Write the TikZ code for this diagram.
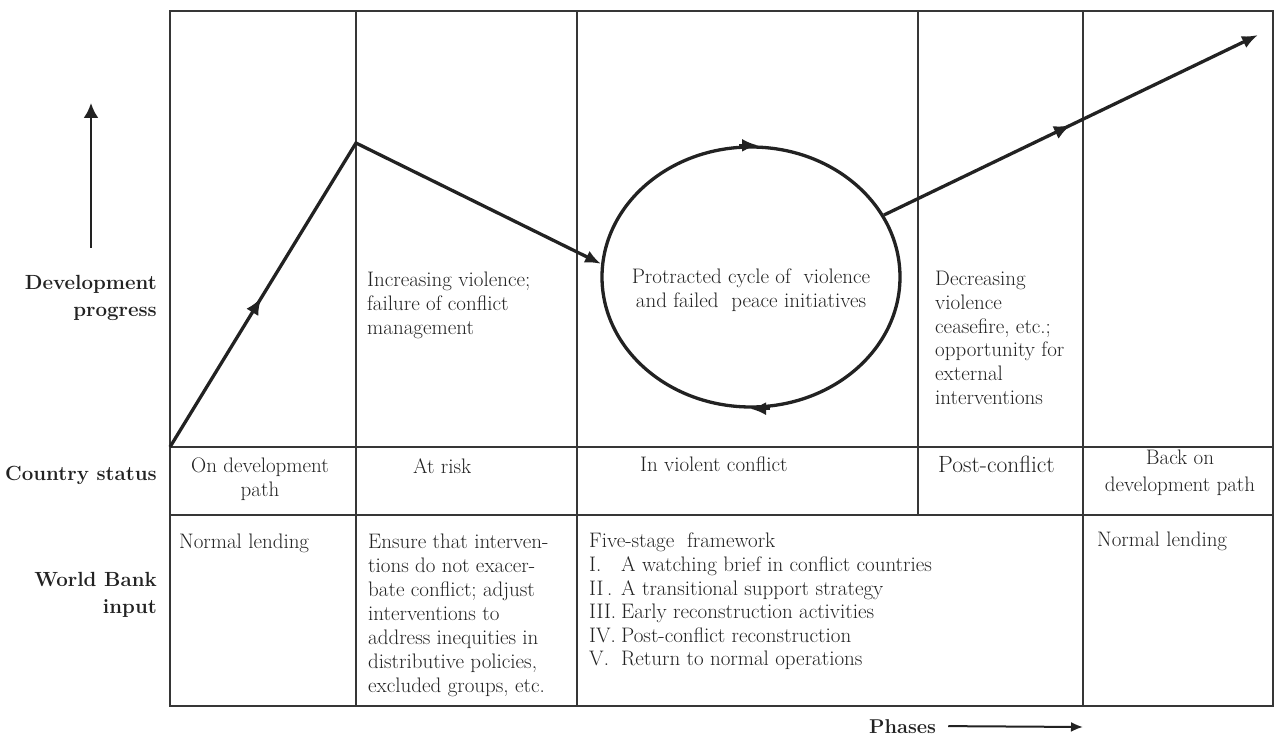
\documentclass[tikz,border=0pt]{standalone}
\usepackage{fontspec}
\usetikzlibrary{arrows.meta,shapes.geometric,decorations.markings,calc}
\definecolor{ink}{HTML}{222222}
\definecolor{rulec}{HTML}{363636}
\begin{document}
\begin{tikzpicture}[x=1pt,y=-1pt,
  gridline/.style={draw=rulec,line width=2pt},
  trend/.style={draw=ink,line width=3.3pt,line join=miter},
  bigtip/.style={-{Latex[length=16pt,width=13pt]}},
  midarrow/.style={postaction={decorate},decoration={markings,mark=at position #1 with {\arrow{Latex[length=17pt,width=14pt]}}}},
  txt/.style={inner sep=0pt,text=ink,font=\fontsize{21}{23.8}\selectfont,align=left},
  lab/.style={inner sep=0pt,text=ink,font=\fontsize{20.5}{27}\selectfont\bfseries,align=right,anchor=north east}
]
\useasboundingbox (0,0) rectangle (1275,738);

% table
\draw[gridline] (170,11) rectangle (1273,706);
\draw[gridline] (170,447) -- (1273,447);
\draw[gridline] (170,515) -- (1273,515);
\draw[gridline] (356,11) -- (356,706);
\draw[gridline] (577,11) -- (577,706);
\draw[gridline] (918,11) -- (918,515);
\draw[gridline] (1083,11) -- (1083,706);

% left labels
\node[lab] (devlab) at (157,275) {Development\\progress};
\node[lab] (ctrylab) at (157,466) {Country status};
\node[lab] (wblab) at (157,572) {World Bank\\input};
\coordinate (upa) at (91,248);
\coordinate (upb) at (91,103);
\draw[draw=ink,line width=2.5pt,-{Latex[length=15pt,width=15pt]}] (upa) -- (upb);

% trend
\coordinate (start) at (170,447);
\coordinate (peak) at (356,143);
\coordinate (endpt) at (1258,35);
\node[draw=ink,line width=3.3pt,ellipse,minimum width=298pt,minimum height=260pt,inner sep=0pt] (cyc) at (751,277) {};
\draw[trend,bigtip,midarrow=175pt] (start) -- (peak) -- (cyc.175);
\draw[trend,bigtip,midarrow=0.5] (cyc.25) -- (endpt);
\draw[draw=ink,line width=3pt,bigtip] ($(cyc.north)+(-12,0)$) -- ($(cyc.north)+(7,0)$);
\draw[draw=ink,line width=3pt,bigtip] ($(cyc.south)+(19,0)$) -- ($(cyc.south)+(-1,0)$);

% row 1 texts
\node[txt,anchor=north west] (incv) at (367,272) {Increasing violence;\\failure of conflict\\management};
\node[txt,anchor=north,align=center] (prot) at (751,269) {Protracted cycle of\ \ violence\\and failed\ \ peace initiatives};
\node[txt,anchor=north west] (decv) at (935,271) {Decreasing\\violence\\ceasefire, etc.;\\opportunity for\\external\\interventions};

% row 2 texts
\node[txt,anchor=north,align=center,font=\fontsize{21}{24}\selectfont] (ondev) at (260,458) {On development\\path};
\node[txt,anchor=north west] (atrisk) at (413,458) {At risk};
\node[txt,anchor=north west] (inviol) at (640,457) {In violent conflict};
\node[txt,anchor=north west,font=\fontsize{23.5}{26}\selectfont] (postc) at (938,456) {Post-conflict};
\node[txt,anchor=north,align=center,font=\fontsize{21}{27}\selectfont] (backon) at (1180,450) {Back on\\development path};

% row 3 texts
\node[txt,anchor=north west] (norm1) at (179,534) {Normal lending};
\node[txt,anchor=north west,font=\fontsize{21}{24}\selectfont] (ensure) at (368,534) {Ensure that interven-\\tions do not exacer-\\bate conflict; adjust\\interventions to\\address inequities in\\distributive policies,\\excluded groups, etc.};
\node[txt,anchor=north west,font=\fontsize{21}{23.6}\selectfont] (five) at (589,533) {Five-stage\ \ framework\\
\makebox[32pt][l]{I.}A watching brief in conflict countries\\
\makebox[32pt][l]{II\,.}A transitional support strategy\\
\makebox[32pt][l]{III.}Early reconstruction activities\\
\makebox[32pt][l]{IV.}Post-conflict reconstruction\\
\makebox[32pt][l]{V.}Return to normal operations};
\node[txt,anchor=north west] (norm2) at (1097,532) {Normal lending};

% phases
\node[txt,anchor=base west,font=\fontsize{20}{23}\selectfont\bfseries] (phases) at (869,733) {Phases};
\coordinate (phend) at (1083,727);
\draw[draw=ink,line width=2pt,-{Latex[length=12pt,width=10pt]}] ([xshift=12pt]phases.east) -- (phend);
\end{tikzpicture}
\end{document}
